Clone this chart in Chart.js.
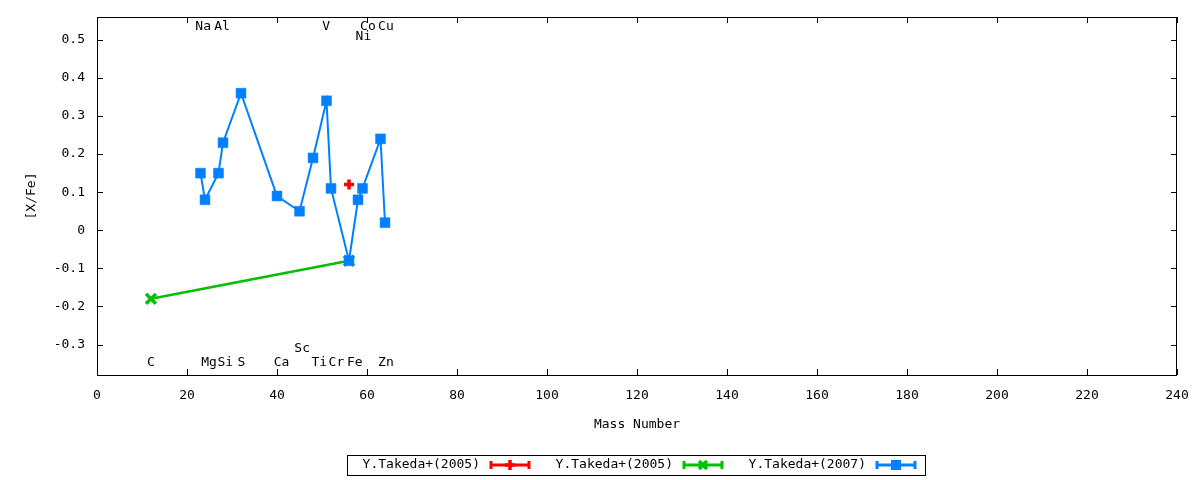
<!DOCTYPE html>
<html>
<head>
<meta charset="utf-8">
<script src="https://cdn.jsdelivr.net/npm/chart.js@4.4.1/dist/chart.umd.min.js"></script>
<style>
  html, body { margin: 0; padding: 0; background: #fff; }
  #wrap { width: 1200px; height: 480px; }
</style>
</head>
<body>
<div id="wrap"><canvas id="chart" width="1200" height="480"></canvas></div>
<script>
// ═══ DATA ═══
const xTicks = [0, 20, 40, 60, 80, 100, 120, 140, 160, 180, 200, 220, 240];
const yTicks = [-0.3, -0.2, -0.1, 0, 0.1, 0.2, 0.3, 0.4, 0.5];

// Y.Takeda+(2005), red
const massRed = [56];
const xfeRed  = [0.12];
// Y.Takeda+(2005), green
const massGreen = [12, 56];
const xfeGreen  = [-0.18, -0.08];
// Y.Takeda+(2007), blue
const massBlue = [23, 24, 27, 28, 32, 40, 45, 48, 51, 52, 56, 58, 59, 63, 64];
const xfeBlue  = [0.15, 0.08, 0.15, 0.23, 0.36, 0.09, 0.05, 0.19, 0.34, 0.11, -0.08, 0.08, 0.11, 0.24, 0.02];

const seriesLabels = ['Y.Takeda+(2005)', 'Y.Takeda+(2005)', 'Y.Takeda+(2007)'];

// element names placed along the frame (mass, [X/Fe] position)
const elemNames = ['C', 'Mg', 'Si', 'S', 'Ca', 'Sc', 'Ti', 'Cr', 'Fe', 'Zn', 'Na', 'Al', 'V', 'Ni', 'Co', 'Cu'];
const elemMass  = [12, 24.9, 28.5, 32.1, 41, 45.6, 49.4, 53.2, 57.3, 64.2, 23.6, 27.8, 50.9, 59.2, 60.2, 64.2];
const elemPos   = [-0.348, -0.348, -0.348, -0.348, -0.348, -0.312, -0.348, -0.348, -0.348, -0.348, 0.534, 0.534, 0.534, 0.508, 0.534, 0.534];

const FONT = "'DejaVu Sans Mono', monospace";
const toXY = (xs, ys) => xs.map((x, i) => ({ x: x, y: ys[i] }));

// ═══ gnuplot-ish frame, labels and key ═══
const frame = {
  id: 'frame',
  afterDraw(chart) {
    const ctx = chart.ctx, a = chart.chartArea;
    const sx = chart.scales.x, sy = chart.scales.y;
    ctx.save();
    ctx.strokeStyle = '#000';
    ctx.lineWidth = 1;
    ctx.strokeRect(a.left + 0.5, a.top + 0.5, a.right - a.left - 1, a.bottom - a.top);
    ctx.beginPath();
    xTicks.forEach(v => {
      const px = Math.round(sx.getPixelForValue(v)) + 0.5;
      ctx.moveTo(px, a.bottom); ctx.lineTo(px, a.bottom - 6);
      ctx.moveTo(px, a.top); ctx.lineTo(px, a.top + 6);
    });
    yTicks.forEach(v => {
      const py = Math.round(sy.getPixelForValue(v)) + 0.5;
      ctx.moveTo(a.left, py); ctx.lineTo(a.left + 6, py);
      ctx.moveTo(a.right, py); ctx.lineTo(a.right - 6, py);
    });
    ctx.stroke();

    // element labels
    ctx.fillStyle = '#000';
    ctx.font = '13px ' + FONT;
    ctx.textAlign = 'center';
    ctx.textBaseline = 'middle';
    elemNames.forEach((n, i) => {
      ctx.fillText(n, sx.getPixelForValue(elemMass[i]), sy.getPixelForValue(elemPos[i]));
    });

    // axis titles
    ctx.fillText('Mass Number', (a.left + a.right) / 2, 425);
    ctx.save();
    ctx.translate(32, (a.top + a.bottom) / 2);
    ctx.rotate(-Math.PI / 2);
    ctx.fillText('[X/Fe]', 0, 0);
    ctx.restore();

    // key box
    ctx.strokeRect(347.5, 455.5, 578, 20);
    const ky = 465;
    chart.data.datasets.forEach((ds, i) => {
      const tr = 480 + i * 193;
      ctx.fillStyle = '#000';
      ctx.textAlign = 'right';
      ctx.fillText(seriesLabels[i], tr, ky);
      const x0 = tr + 10, x1 = tr + 50, xm = (x0 + x1) / 2;
      ctx.strokeStyle = ds.borderColor;
      ctx.fillStyle = ds.borderColor;
      ctx.lineWidth = 3;
      ctx.beginPath();
      ctx.moveTo(x0, ky); ctx.lineTo(x1, ky);
      ctx.moveTo(x0 + 1, ky - 4); ctx.lineTo(x0 + 1, ky + 4);
      ctx.moveTo(x1 - 1, ky - 4); ctx.lineTo(x1 - 1, ky + 4);
      ctx.stroke();
      if (ds.pointStyle === 'rect') {
        ctx.fillRect(xm - 5, ky - 5, 10, 10);
      } else if (ds.pointStyle === 'cross') {
        ctx.lineWidth = 3.5;
        ctx.beginPath();
        ctx.moveTo(xm - 5, ky); ctx.lineTo(xm + 5, ky);
        ctx.moveTo(xm, ky - 5); ctx.lineTo(xm, ky + 5);
        ctx.stroke();
      } else {
        ctx.lineWidth = 3.5;
        ctx.beginPath();
        ctx.moveTo(xm - 4, ky - 4); ctx.lineTo(xm + 4, ky + 4);
        ctx.moveTo(xm - 4, ky + 4); ctx.lineTo(xm + 4, ky - 4);
        ctx.stroke();
      }
      ctx.strokeStyle = '#000';
      ctx.lineWidth = 1;
    });
    ctx.restore();
  }
};

const noPad = s => { s.paddingTop = 0; s.paddingBottom = 0; s.paddingLeft = 0; s.paddingRight = 0; };

// ═══ CHART ═══
function initChart() {
  new Chart(document.getElementById('chart'), {
    type: 'scatter',
    data: {
      datasets: [
        { label: seriesLabels[0], data: toXY(massRed, xfeRed), showLine: true, order: 2,
          borderColor: '#FF0000', backgroundColor: '#FF0000', borderWidth: 2,
          pointStyle: 'cross', pointRadius: 5, pointBorderWidth: 3.5 },
        { label: seriesLabels[1], data: toXY(massGreen, xfeGreen), showLine: true, order: 1,
          borderColor: '#00C000', backgroundColor: '#00C000', borderWidth: 2.5,
          pointStyle: 'crossRot', pointRadius: 7, pointBorderWidth: 3.5 },
        { label: seriesLabels[2], data: toXY(massBlue, xfeBlue), showLine: true, order: 0,
          borderColor: '#0080FF', backgroundColor: '#0080FF', borderWidth: 2,
          pointStyle: 'rect', pointRadius: 7, pointBorderWidth: 0.5 }
      ]
    },
    options: {
      responsive: false,
      animation: false,
      devicePixelRatio: 1,
      layout: { padding: { top: 17, right: 23, left: 0, bottom: 0 } },
      plugins: { legend: { display: false }, tooltip: { enabled: false } },
      scales: {
        x: {
          type: 'linear', min: 0, max: 240,
          afterBuildTicks: s => { s.ticks = xTicks.map(v => ({ value: v })); },
          afterFit: s => { s.height = 105; noPad(s); },
          grid: { display: false, drawTicks: false },
          border: { display: false },
          ticks: { padding: 13, color: '#000', maxRotation: 0, autoSkip: false, font: { family: FONT, size: 13 } }
        },
        y: {
          type: 'linear', min: -0.38, max: 0.56,
          afterBuildTicks: s => { s.ticks = yTicks.map(v => ({ value: v })); },
          afterFit: s => { s.width = 97; noPad(s); },
          grid: { display: false, drawTicks: false },
          border: { display: false },
          ticks: { padding: 12, color: '#000', autoSkip: false, font: { family: FONT, size: 13 },
                   callback: v => String(Math.round(v * 10) / 10) }
        }
      }
    },
    plugins: [frame]
  });
}

document.addEventListener('DOMContentLoaded', initChart);
</script>
</body>
</html>
